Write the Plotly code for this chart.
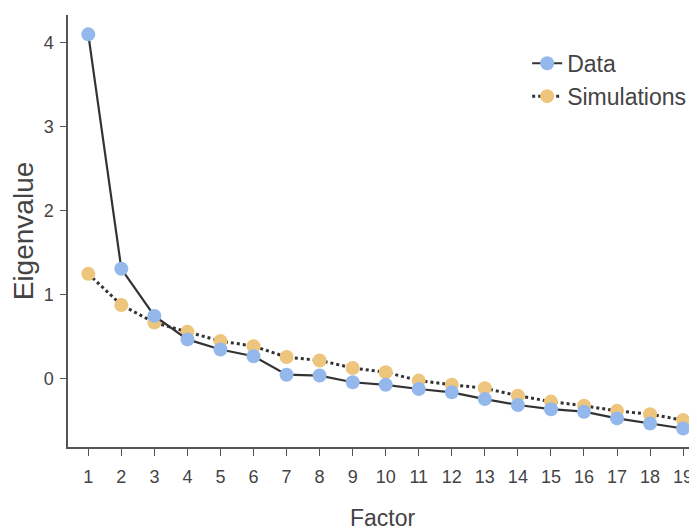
import plotly.graph_objects as go

factors = list(range(1, 20))
data_vals = [4.10, 1.31, 0.75, 0.47, 0.35, 0.27, 0.05, 0.04, -0.04, -0.07,
             -0.12, -0.16, -0.24, -0.31, -0.36, -0.39, -0.47, -0.53, -0.59]
sim_vals = [1.25, 0.88, 0.67, 0.56, 0.45, 0.39, 0.26, 0.22, 0.13, 0.08,
            -0.02, -0.07, -0.11, -0.20, -0.27, -0.32, -0.38, -0.42, -0.49]
y_ticks = [0, 1, 2, 3, 4]

FONT = "Liberation Sans, Arial, sans-serif"
BLUE = "#94b8ec"
GOLD = "#edc57c"
LINE = "#333333"
TXT = "#444444"

fig = go.Figure()
fig.add_trace(go.Scatter(
    x=factors, y=sim_vals, name="Simulations", mode="lines+markers",
    legendrank=2,
    line=dict(color=LINE, width=3, dash="dot"),
    marker=dict(color=GOLD, size=14),
))
fig.add_trace(go.Scatter(
    x=factors, y=data_vals, name="Data", mode="lines+markers",
    legendrank=1,
    line=dict(color=LINE, width=2.2),
    marker=dict(color=BLUE, size=14),
))

# page body adds an 8px offset; size the figure to fill the rest of the window
fig.update_layout(
    width=689, height=523,
    margin=dict(l=60, r=0, t=7, b=84),
    paper_bgcolor="white", plot_bgcolor="white",
    font=dict(family=FONT, color=TXT, size=17),
    showlegend=True,
    legend=dict(x=0.73, y=0.938, xanchor="left", yanchor="top",
                font=dict(size=23, color=TXT),
                itemwidth=30, bgcolor="rgba(0,0,0,0)"),
    xaxis=dict(
        range=[0.386, 19.42], tickmode="array", tickvals=factors,
        ticktext=[str(f) for f in factors],
        showgrid=False, zeroline=False, showline=True, linecolor="#555555",
        linewidth=1.5, ticks="outside", ticklen=7, tickcolor="#555555",
        tickfont=dict(size=18, color=TXT), ticklabelstandoff=6,
        automargin=False,
        title=dict(text="Factor", font=dict(size=23, color=TXT), standoff=31),
    ),
    yaxis=dict(
        range=[-0.81, 4.33], tickmode="array", tickvals=y_ticks,
        showgrid=False, zeroline=False, showline=True, linecolor="#555555",
        linewidth=1.5, ticks="outside", ticklen=6, tickcolor="#555555",
        tickfont=dict(size=18, color=TXT), ticklabelstandoff=3,
        automargin=False,
        title=dict(text="Eigenvalue", font=dict(size=28, color=TXT), standoff=11),
    ),
)

fig.write_html("out.html")
